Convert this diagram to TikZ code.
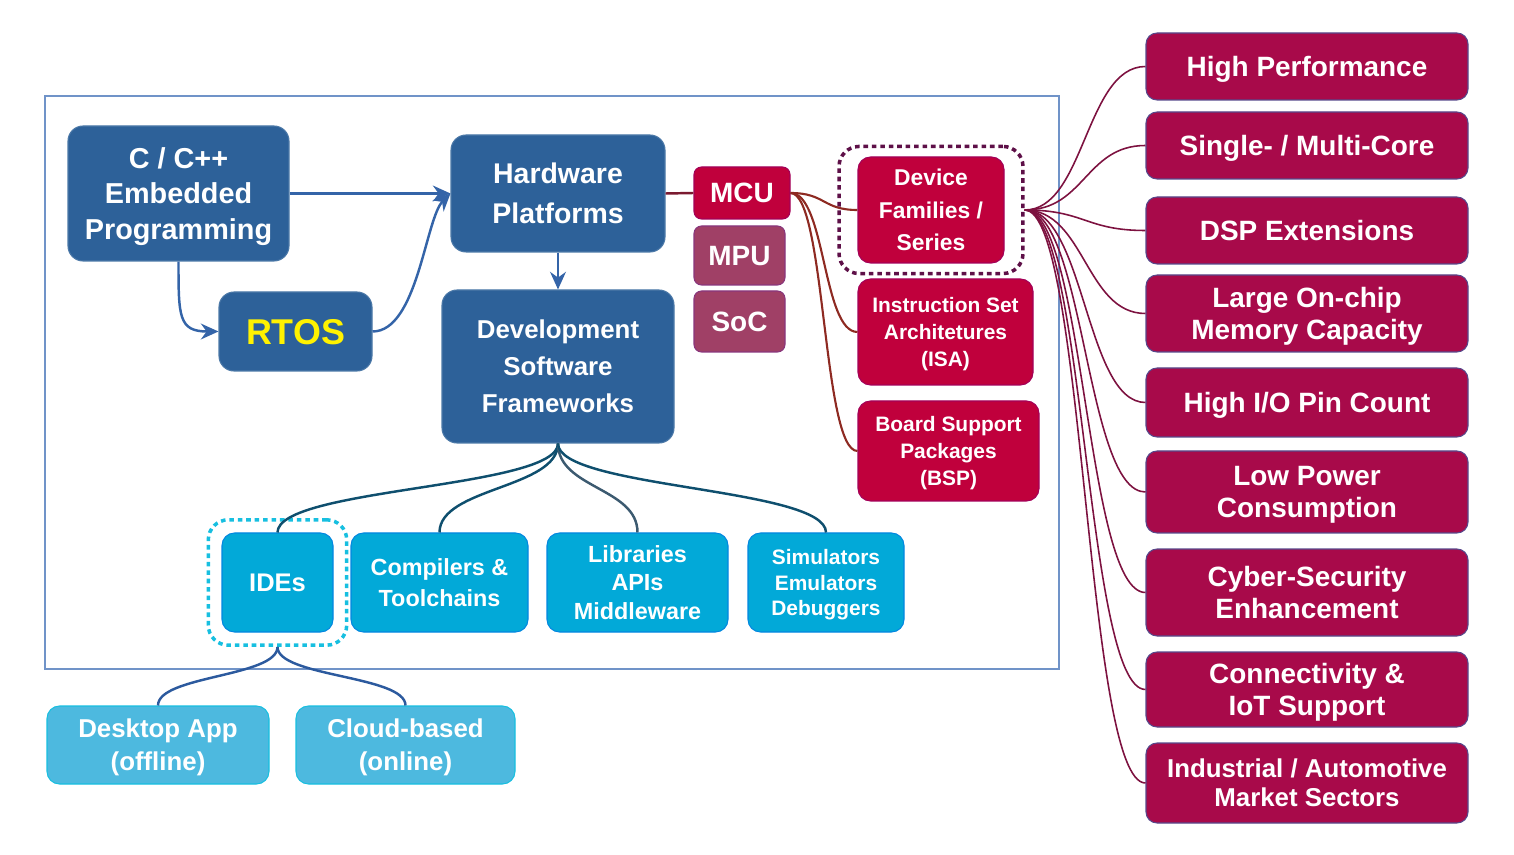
\documentclass[tikz,border=0pt]{standalone}
\usepackage{fontspec}
\setmainfont{Liberation Sans}
\usepackage{tikz}
\usetikzlibrary{arrows.meta, fit}

\definecolor{hwblue}{HTML}{2D6199}
\definecolor{mcured}{HTML}{C0003C}
\definecolor{mpurose}{HTML}{A04066}
\definecolor{featred}{HTML}{A80A4A}
\definecolor{swcyan}{HTML}{02A9D8}
\definecolor{idecyan}{HTML}{4DB9DF}
\definecolor{framebl}{HTML}{7093C8}
\definecolor{arrowbl}{HTML}{3464A8}
\definecolor{ringpurp}{HTML}{5E1048}
\definecolor{ringcyan}{HTML}{17BFE0}
\definecolor{fanred}{HTML}{7D1240}
\definecolor{mculine}{HTML}{8E2A22}
\definecolor{hwline}{HTML}{7A1A30}
\definecolor{devline}{HTML}{0F4F6E}
\definecolor{libline}{HTML}{3C5A70}
\definecolor{ideline}{HTML}{2C5A9E}

\newcommand{\fsz}[2]{\bfseries\fontsize{#1}{#2}\selectfont}

\tikzset{
	box/.style={rounded corners=0.3cm, align=center, inner sep=0pt, text depth=0pt, text=white, line width=0.6pt},
	hwbox/.style={box, fill=hwblue, draw=hwblue!85!white},
	chipbox/.style={box, rounded corners=0.15cm, fill=mcured, draw=mcured!85!blue},
	otherchip/.style={box, rounded corners=0.15cm, fill=mpurose, draw=mpurose!85!blue},
	mcubox/.style={box, rounded corners=0.25cm, fill=mcured, draw=mcured!85!blue},
	featbox/.style={box, rounded corners=0.22cm, fill=featred, draw=arrowbl!70!featred, minimum width=6.44cm},
	swbox/.style={box, rounded corners=0.25cm, fill=swcyan, draw=swcyan!80!blue, minimum height=1.98cm},
	idebox/.style={box, rounded corners=0.25cm, fill=idecyan, draw=ringcyan, minimum height=1.56cm},
	ring/.style={draw, rounded corners=0.4cm, line width=2pt, dash pattern=on 2.6pt off 2.2pt, inner sep=0pt},
	arrowline/.style={draw=arrowbl, line width=1.4pt, -{Stealth[length=10pt, width=9pt]}},
	fanline/.style={draw=fanred, line width=0.9pt},
}

\begin{document}
\begin{tikzpicture}
	\useasboundingbox (0,0) rectangle (30.28,-17.10);
	\draw[framebl, line width=0.8pt] (0.9,-1.92) rectangle (21.18,-13.38);

	% programming and platforms
	\node[hwbox, minimum width=4.42cm, minimum height=2.70cm, font=\fsz{16.4}{20}] (cpp) at (3.57,-3.87) {C / C++\\Embedded\\Programming};
	\node[hwbox, minimum width=4.28cm, minimum height=2.34cm, font=\fsz{16.2}{22.7}] (hw) at (11.16,-3.87) {Hardware\\Platforms};
	\node[hwbox, minimum width=3.06cm, minimum height=1.58cm, font=\fsz{20.4}{24}, text=yellow] (rtos) at (5.91,-6.63) {RTOS};
	\node[hwbox, minimum width=4.64cm, minimum height=3.06cm, font=\fsz{14.7}{21}] (dev) at (11.16,-7.33) {Development\\Software\\Frameworks};

	\draw[arrowline] (cpp.east) -- (hw.west);
	\draw[arrowline] (cpp.south) .. controls +(0,-1.1) and +(-0.8,0) .. (rtos.west);
	\draw[arrowline] (rtos.east) .. controls +(0.9,0) and +(-0.5,-0.5) .. (hw.west);
	\draw[arrowline] (hw.south) -- (dev.north);

	% chips
	\node[chipbox, minimum width=1.92cm, minimum height=1.04cm, font=\fsz{15.9}{19}] (mcu) at (14.84,-3.86) {MCU};
	\node[otherchip, minimum width=1.82cm, minimum height=1.18cm, font=\fsz{15.9}{19}] (mpu) at (14.79,-5.11) {MPU};
	\node[otherchip, minimum width=1.82cm, minimum height=1.22cm, font=\fsz{15.9}{19}] (soc) at (14.79,-6.43) {SoC};
	\draw[hwline, line width=1.4pt] (hw.east) -- (mcu.west);

	\node[mcubox, minimum width=2.92cm, minimum height=2.12cm, font=\fsz{13}{18.4}] (fam) at (18.62,-4.20) {Device\\Families /\\Series};
	\node[mcubox, minimum width=3.50cm, minimum height=2.12cm, font=\fsz{11.9}{15.3}] (isa) at (18.91,-6.64) {Instruction Set\\Architetures\\(ISA)};
	\node[mcubox, minimum width=3.62cm, minimum height=2.00cm, font=\fsz{11.9}{15.3}] (bsp) at (18.97,-9.02) {Board Support\\Packages\\(BSP)};
	\node[ring, ringpurp, fit=(fam), inner xsep=10.5pt, inner ysep=5.7pt] (famring) {};

	\foreach \t in {fam, isa, bsp}
		\draw[mculine, line width=1.2pt] (mcu.east) .. controls +(0.7,0) and +(-0.7,0) .. (\t.west);

	% MCU features
	\node[featbox, minimum height=1.34cm, font=\fsz{15.9}{17.9}] (hp) at (26.14,-1.33) {High Performance};
	\node[featbox, minimum height=1.34cm, font=\fsz{15.9}{17.9}] (core) at (26.14,-2.91) {Single- / Multi-Core};
	\node[featbox, minimum height=1.34cm, font=\fsz{15.9}{17.9}] (dsp) at (26.14,-4.61) {DSP Extensions};
	\node[featbox, minimum height=1.54cm, font=\fsz{15.9}{17.9}] (mem) at (26.14,-6.27) {Large On-chip\\Memory Capacity};
	\node[featbox, minimum height=1.38cm, font=\fsz{15.9}{17.9}] (pins) at (26.14,-8.05) {High I/O Pin Count};
	\node[featbox, minimum height=1.64cm, font=\fsz{15.9}{17.9}] (power) at (26.14,-9.84) {Low Power\\Consumption};
	\node[featbox, minimum height=1.74cm, font=\fsz{15.9}{17.9}] (sec) at (26.14,-11.85) {Cyber-Security\\Enhancement};
	\node[featbox, minimum height=1.50cm, font=\fsz{15.9}{17.9}] (iot) at (26.14,-13.79) {Connectivity \&\\IoT Support};
	\node[featbox, minimum height=1.60cm, font=\fsz{14.7}{16.4}] (market) at (26.14,-15.66) {Industrial / Automotive\\Market Sectors};

	\foreach \t in {hp, core, dsp, mem, pins, power, sec, iot, market}
		\draw[fanline] (famring.east) .. controls +(1.2,0) and +(-1.2,0) .. (\t.west);

	% software frameworks
	\node[swbox, minimum width=2.22cm, font=\fsz{14.5}{17}] (ide) at (5.55,-11.65) {IDEs};
	\node[swbox, minimum width=3.54cm, font=\fsz{13.3}{18.1}] (comp) at (8.79,-11.65) {Compilers \&\\Toolchains};
	\node[swbox, minimum width=3.62cm, font=\fsz{13.3}{16.2}] (libs) at (12.75,-11.65) {Libraries\\APIs\\Middleware};
	\node[swbox, minimum width=3.12cm, font=\fsz{11.9}{14.5}] (sim) at (16.52,-11.65) {Simulators\\Emulators\\Debuggers};
	\node[ring, ringcyan, fit=(ide), inner xsep=7.5pt, inner ysep=7.2pt] (idering) {};

	\draw[devline, line width=1.4pt] (dev.south) .. controls +(0,-0.9) and +(0,0.9) .. (ide.north);
	\draw[devline, line width=1.4pt] (dev.south) .. controls +(0,-0.9) and +(0,0.9) .. (comp.north);
	\draw[libline, line width=1.4pt] (dev.south) .. controls +(0,-0.9) and +(0,0.9) .. (libs.north);
	\draw[devline, line width=1.4pt] (dev.south) .. controls +(0,-0.9) and +(0,0.9) .. (sim.north);

	\node[idebox, minimum width=4.44cm, font=\fsz{14.7}{18.7}] (desk) at (3.16,-14.90) {Desktop App\\(offline)};
	\node[idebox, minimum width=4.38cm, font=\fsz{14.7}{18.7}] (cloud) at (8.11,-14.90) {Cloud-based\\(online)};

	\draw[ideline, line width=1.4pt] (idering.south) .. controls +(0,-0.6) and +(0,0.6) .. (desk.north);
	\draw[ideline, line width=1.4pt] (idering.south) .. controls +(0,-0.6) and +(0,0.6) .. (cloud.north);
\end{tikzpicture}
\end{document}
